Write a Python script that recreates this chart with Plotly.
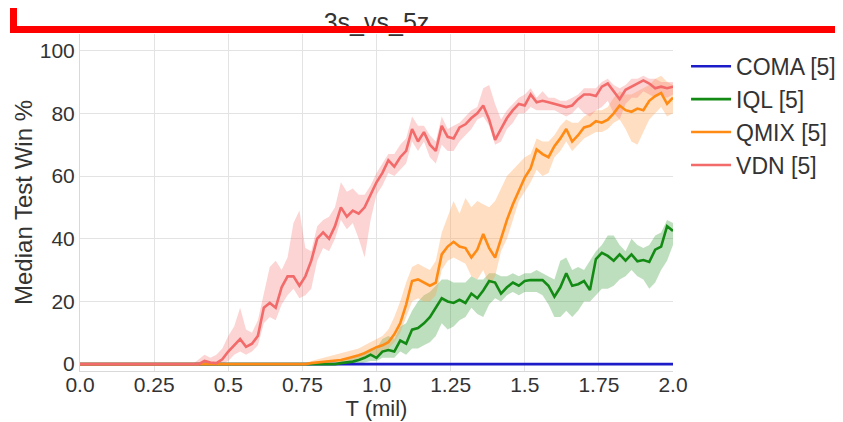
import plotly.graph_objects as go

# ---------------- data ----------------
T = [round(i * 0.02, 2) for i in range(101)]

coma = [0.0] * 101

iql = [0]*44 + [0.3, 0.5, 0.8, 1.3, 2, 3, 2, 4, 4.5, 4, 7.5, 6.5, 11, 11.5, 13, 15, 18, 21, 20, 19.5,
       20.5, 19.5, 22.5, 21, 23.5, 26.5, 26, 22.5, 24.5, 26, 25, 26.5, 26.8, 26.8, 26.8, 25, 21.5, 24.5,
       29, 25, 25.5, 26.5, 23.6, 33.5, 35.5, 34.5, 33, 35, 33, 35, 32.8, 33.2, 32.6, 36.5, 37.5, 44, 42.5]
iql_lo = [0]*44 + [0, 0, 0, 0, 0.5, 1, 1, 2, 2, 2, 4, 3, 5, 5, 6, 7, 9, 13, 11, 12,
          14, 15, 18, 16, 15, 19, 21, 20, 22, 23, 22, 23, 23, 23, 22, 19, 15, 15,
          17, 15, 17, 20, 20, 22, 24, 24, 25, 27, 28, 30, 28, 27, 24, 26, 30, 33, 38]
iql_hi = [0]*44 + [1, 1.5, 2, 3, 4, 5, 5, 8, 9, 8, 12, 13, 17, 20, 22, 23, 25, 27, 27, 26,
          26, 26, 28, 27, 27, 29, 29, 28, 28, 29, 28, 29, 29, 30, 29, 28, 27, 33,
          34, 30, 31, 30, 33, 36, 38, 41, 41, 38, 36, 40, 38, 37, 38, 41, 42, 46, 45]

qmix = [0]*39 + [0.3, 0.5, 0.7, 1, 1, 1.3, 1.8, 2.2, 2.8, 3.5, 4.5, 5.4, 6, 7, 9.5, 13, 19, 26.5, 27, 26,
        25, 26, 35, 37.5, 39, 37.5, 37, 34, 36.5, 41.5, 37, 34, 40, 46, 51, 55.5, 59.5, 62.5, 68.5,
        67, 66, 69.5, 72, 75, 71, 73, 75.5, 76, 77.5, 77, 78, 80, 82.5, 81, 80.5, 81.5, 81, 84,
        85.5, 86.5, 83, 85]
qmix_lo = [0]*39 + [0, 0, 0, 0, 0, 0.3, 0.5, 1, 1.3, 2, 2.5, 3, 4, 5, 7, 10, 15, 20, 21, 20,
           20, 22, 30, 33, 34, 33, 32, 28, 27, 30, 25, 28, 36, 40, 46, 52, 55, 58, 62,
           60, 61, 66, 68, 71, 68, 70, 72, 73, 74, 74, 75, 77, 78, 75, 71, 70, 74, 78,
           80, 82, 79, 80]
qmix_hi = [0]*39 + [1, 1.5, 2, 2.5, 3, 3.5, 4, 4.5, 5, 6, 7, 8, 9, 11, 15, 20, 26, 31, 32, 31,
           30, 33, 42, 47, 52, 48, 53, 50, 52, 51, 50, 52, 56, 60, 62, 64, 66, 67, 72,
           71, 71, 73, 76, 78, 77, 77, 79, 80, 81, 81, 82, 85, 87, 86, 86, 87, 88, 89,
           91, 92, 90, 89]

vdn = [0]*21 + [1, 0.5, 0.3, 1.5, 4, 6, 8, 5.5, 6.5, 9, 18, 19.5, 18, 24.5, 28, 28, 25, 28, 33, 40,
       42, 40, 44, 50, 47, 49, 48, 50, 54, 58, 61, 65, 63, 66, 68, 75, 71, 74, 70, 68, 76, 72.5,
       72, 75.5, 76.5, 78.5, 80, 82.5, 78, 71.5, 75, 78.5, 81, 83, 82.5, 86, 83.5, 84, 83.5, 83,
       82.5, 82, 82.5, 84.5, 86, 86, 85.5, 88.5, 89.5, 87, 84.5, 87.5, 88.5, 89.5, 90.5, 89.5,
       88, 88.5, 88, 88.5]
vdn_lo = [0]*21 + [0, 0, 0, 0, 1, 3, 4, 3, 4, 6, 13, 15, 14, 19, 22, 24, 21, 22, 24, 33,
          37, 36, 40, 46, 43, 45, 40, 34, 46, 54, 57, 61, 60, 62, 64, 71, 68, 71, 66, 64, 70, 68,
          68, 71, 73, 75, 78, 79, 76, 70, 71, 75, 77, 80, 80, 82, 81, 81, 81, 81,
          80, 79, 80, 82, 80, 79, 81, 82, 84, 80, 78, 83, 85, 85, 87, 86,
          85, 86, 85, 86]
vdn_hi = [0]*20 + [1.5, 3, 2, 3, 5, 9, 12, 18, 11, 10, 14, 22, 31, 33, 30, 34, 45, 49, 37, 36, 44,
          46, 47, 50, 58, 55, 56, 54, 54, 57, 61, 64, 67, 67, 70, 72, 79, 76, 76, 73, 71, 79, 75,
          76, 77, 79, 81, 82, 88, 89, 83, 78, 81, 83, 85, 86, 88, 85, 87, 85, 85,
          84, 84, 85, 86, 88, 88, 88, 90, 91, 89, 88, 89, 91, 91, 92, 91,
          91, 90, 90, 90]

series_names = ["COMA [5]", "IQL [5]", "QMIX [5]", "VDN [5]"]
x_tickvals = [0, 0.25, 0.5, 0.75, 1.0, 1.25, 1.5, 1.75, 2.0]
x_ticktext = ["0.0", "0.25", "0.5", "0.75", "1.0", "1.25", "1.5", "1.75", "2.0"]
y_tickvals = [0, 20, 40, 60, 80, 100]
title_text = "3s_vs_5z"

# ---------------- styles ----------------
line_colors = ["#1c1cc8", "#138a13", "#ff8a14", "#f26a6a"]
fill_colors = ["rgba(28,28,200,0.25)", "rgba(40,150,40,0.30)",
               "rgba(255,160,80,0.35)", "rgba(245,120,120,0.32)"]
FONT = "Liberation Sans"
TXT = "#333333"

fig = go.Figure()

bands = [(None, None), (iql_lo, iql_hi), (qmix_lo, qmix_hi), (vdn_lo, vdn_hi)]
values = [coma, iql, qmix, vdn]

for (lo, hi), fc in zip(bands, fill_colors):
    if lo is None:
        continue
    fig.add_trace(go.Scatter(
        x=T + T[::-1], y=hi + lo[::-1], fill="toself", fillcolor=fc,
        line=dict(width=0), mode="lines", showlegend=False, hoverinfo="skip"))

for name, vals, lc in zip(series_names, values, line_colors):
    fig.add_trace(go.Scatter(x=T, y=vals, mode="lines", name=name,
                             line=dict(color=lc, width=2.6)))

# red frame (drawn as annotations so it sits over the title, as in the source image)
red_bars = [
    dict(x=-0.118, y=1.003, width=900, height=7),   # horizontal bottom edge
    dict(x=-0.118, y=1.003, width=7, height=45),    # vertical left edge
]
annotations = [dict(xref="paper", yref="paper", x=b["x"], y=b["y"], xanchor="left", yanchor="bottom",
                    text=" ", font=dict(size=1), showarrow=False, bgcolor="#ff0000",
                    borderpad=0, borderwidth=0, width=b["width"], height=b["height"])
               for b in red_bars]

# the page places the figure 8px in from the top-left corner, so the figure is 8px smaller
fig.update_layout(
    width=835, height=414,
    margin=dict(l=72, r=170, t=26, b=51, autoexpand=False),
    paper_bgcolor="white", plot_bgcolor="white",
    font=dict(family=FONT, size=21, color=TXT),
    title=dict(text=title_text, x=0.5, xref="paper", xanchor="center",
               y=0.9655, yref="container", yanchor="middle",
               font=dict(size=25, color=TXT, family=FONT)),
    showlegend=True,
    legend=dict(x=1.022, y=0.968, xanchor="left", yanchor="top",
                font=dict(size=23, color=TXT), bgcolor="rgba(0,0,0,0)",
                itemwidth=40, tracegroupgap=0),
    xaxis=dict(range=[0, 2.0], tickvals=x_tickvals, ticktext=x_ticktext, automargin=False,
               showgrid=True, gridcolor="#e3e3e3", gridwidth=1, zeroline=False,
               showline=True, linecolor="#d9d9d9", linewidth=1, ticks="", ticklen=0,
               ticklabelstandoff=-5,
               tickfont=dict(size=21, color=TXT),
               title=dict(text="T (mil)", font=dict(size=22, color=TXT), standoff=3)),
    yaxis=dict(range=[-2.2, 105.3], tickvals=y_tickvals, automargin=False,
               showgrid=True, gridcolor="#e3e3e3", gridwidth=1, zeroline=False,
               showline=True, linecolor="#d9d9d9", linewidth=1, ticks="", ticklen=0,
               tickfont=dict(size=21, color=TXT),
               title=dict(text="Median Test Win %", font=dict(size=24, color=TXT), standoff=0)),
    annotations=annotations,
)

fig.write_html("out.html")
